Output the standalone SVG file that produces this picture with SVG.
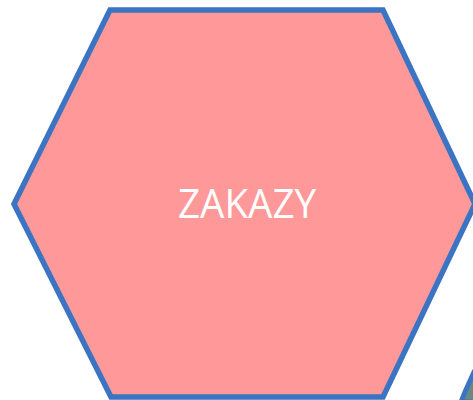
<svg xmlns="http://www.w3.org/2000/svg" width="473" height="400" viewBox="0 0 473 400">
<style>
.hex{fill:#FF9999;stroke:#3B74C3;stroke-width:5.5;stroke-linejoin:miter}
.lbl{fill:#FFFFFF;font-family:"Open Sans","Liberation Sans",sans-serif;font-size:41px}
</style>
<rect width="473" height="400" fill="#FFFFFF"/>
<g id="next">
<polygon points="474,372 465,392 461,402 480,402 480,372" fill="#6B8A7E" stroke="#3B74C3" stroke-width="5"/>
</g>
<g id="zakazy">
<polygon class="hex" points="110,10 383,10 475,204 383,397 111,397 14,204"/>
<text class="lbl" x="247" y="218" text-anchor="middle" textLength="138" lengthAdjust="spacingAndGlyphs">ZAKAZY</text>
</g>
</svg>
